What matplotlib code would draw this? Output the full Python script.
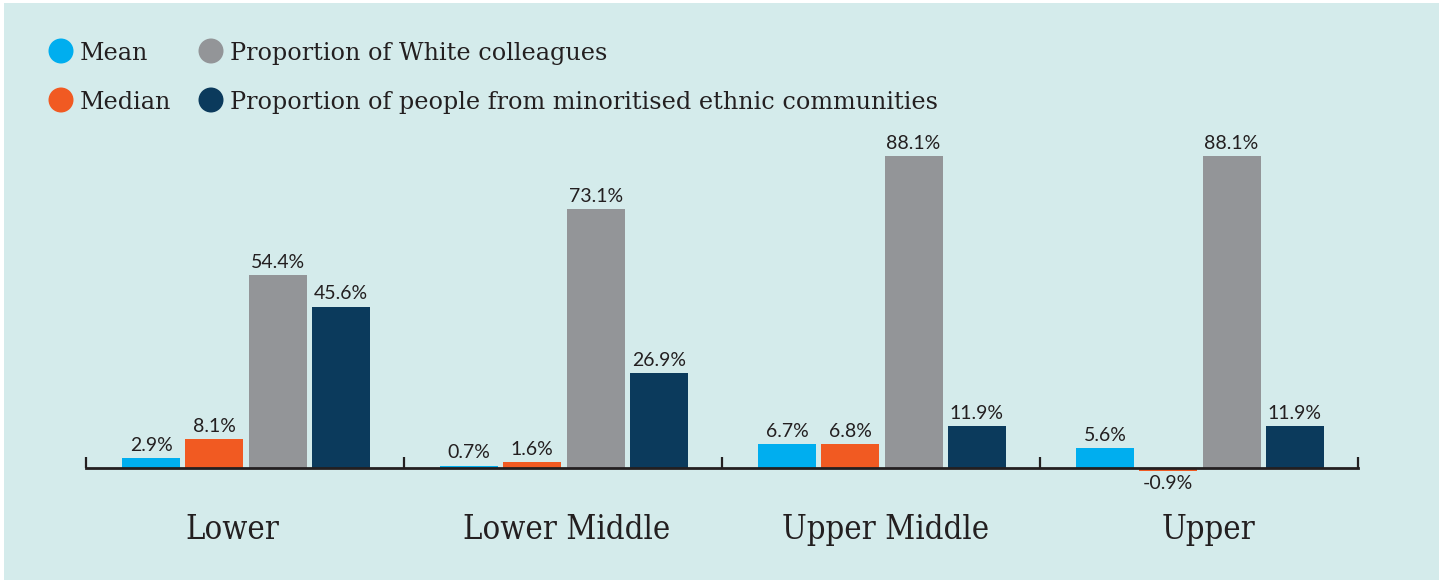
import matplotlib
matplotlib.use("Agg")
import matplotlib.pyplot as plt
from matplotlib.patches import Rectangle, Circle
import matplotlib.transforms as mtrans
import numpy as np

categories = ["Lower", "Lower Middle", "Upper Middle", "Upper"]
series_names = ["Mean", "Median", "Proportion of White colleagues",
                "Proportion of people from minoritised ethnic communities"]
mean_vals = [2.9, 0.7, 6.7, 5.6]
median_vals = [8.1, 1.6, 6.8, -0.9]
white_vals = [54.4, 73.1, 88.1, 88.1]
minority_vals = [45.6, 26.9, 11.9, 11.9]
colors = ["#00aeef", "#f15a22", "#939598", "#0b3a5c"]

BG = "#d4ebeb"
TXT = "#231f20"
W, H = 1445, 580
fig = plt.figure(figsize=(W / 100, H / 100), dpi=100, facecolor="white")
fig.patches.append(Rectangle((4 / W, 0), (1439 - 4) / W, 577 / H,
                             transform=fig.transFigure, facecolor=BG,
                             edgecolor="none", zorder=-10))

# axes: x 86..1358 px, zero at y=468
ppu = 3.54
ymin, ymax = -5, 90
y0 = 468
bottom_px = y0 + (-ymin) * ppu
top_px = y0 - ymax * ppu
ax = fig.add_axes([86 / W, 1 - bottom_px / H, (1358 - 86) / W, (bottom_px - top_px) / H])
ax.set_facecolor("none")
ax.set_xlim(-0.5, 3.5)
ax.set_ylim(ymin, ymax)

x = np.arange(len(categories))
step = 0.199
bw = 0.182
all_series = [mean_vals, median_vals, white_vals, minority_vals]
offsets = [-1.5, -0.5, 0.5, 1.5]
for vals, off, c in zip(all_series, offsets, colors):
    xs = x + off * step + 0.003
    ax.bar(xs, vals, width=bw, color=c, zorder=2)
    for xi, v in zip(xs, vals):
        if v >= 0:
            ax.annotate(f"{v:.1f}%", (xi, v), xytext=(0, 3), textcoords="offset points",
                        ha="center", va="bottom", fontsize=14, family="Lato", color=TXT)
        else:
            ax.annotate(f"{v:.1f}%", (xi, v), xytext=(0, -3), textcoords="offset points",
                        ha="center", va="top", fontsize=14, family="Lato", color=TXT)

for s in ["top", "right", "left"]:
    ax.spines[s].set_visible(False)
ax.spines["bottom"].set_position(("data", 0))
ax.spines["bottom"].set_color(TXT)
ax.spines["bottom"].set_linewidth(2)
ax.spines["bottom"].set_zorder(3)
ax.set_yticks([])
ax.set_xticks(np.arange(-0.5, 4, 1))
ax.tick_params(axis="x", direction="in", length=8, width=1.6, color=TXT, labelbottom=False)

label_dx = [-0.04, 0.01, 0.015, 0.03]
tr = mtrans.blended_transform_factory(ax.transData, fig.transFigure)
for xi, dx, cat in zip(x, label_dx, categories):
    ax.text(xi + dx, 1 - 539 / H, cat, transform=tr,
            ha="center", va="baseline", fontsize=23.5, family="DejaVu Serif",
            fontstretch="condensed", color=TXT)

# legend
leg = [(61, 51, 0), (211, 51, 2), (61, 100, 1), (211, 100, 3)]
for px, py, i in leg:
    fig.patches.append(Circle((px, H - py), 12.5, transform=None,
                              facecolor=colors[i], edgecolor="none"))
    fig.text((px + 19) / W, 1 - (py + 9) / H, series_names[i], ha="left", va="baseline",
             fontsize=17.2, family="DejaVu Serif", color=TXT)

fig.savefig("out.png", dpi=100, facecolor="white")
